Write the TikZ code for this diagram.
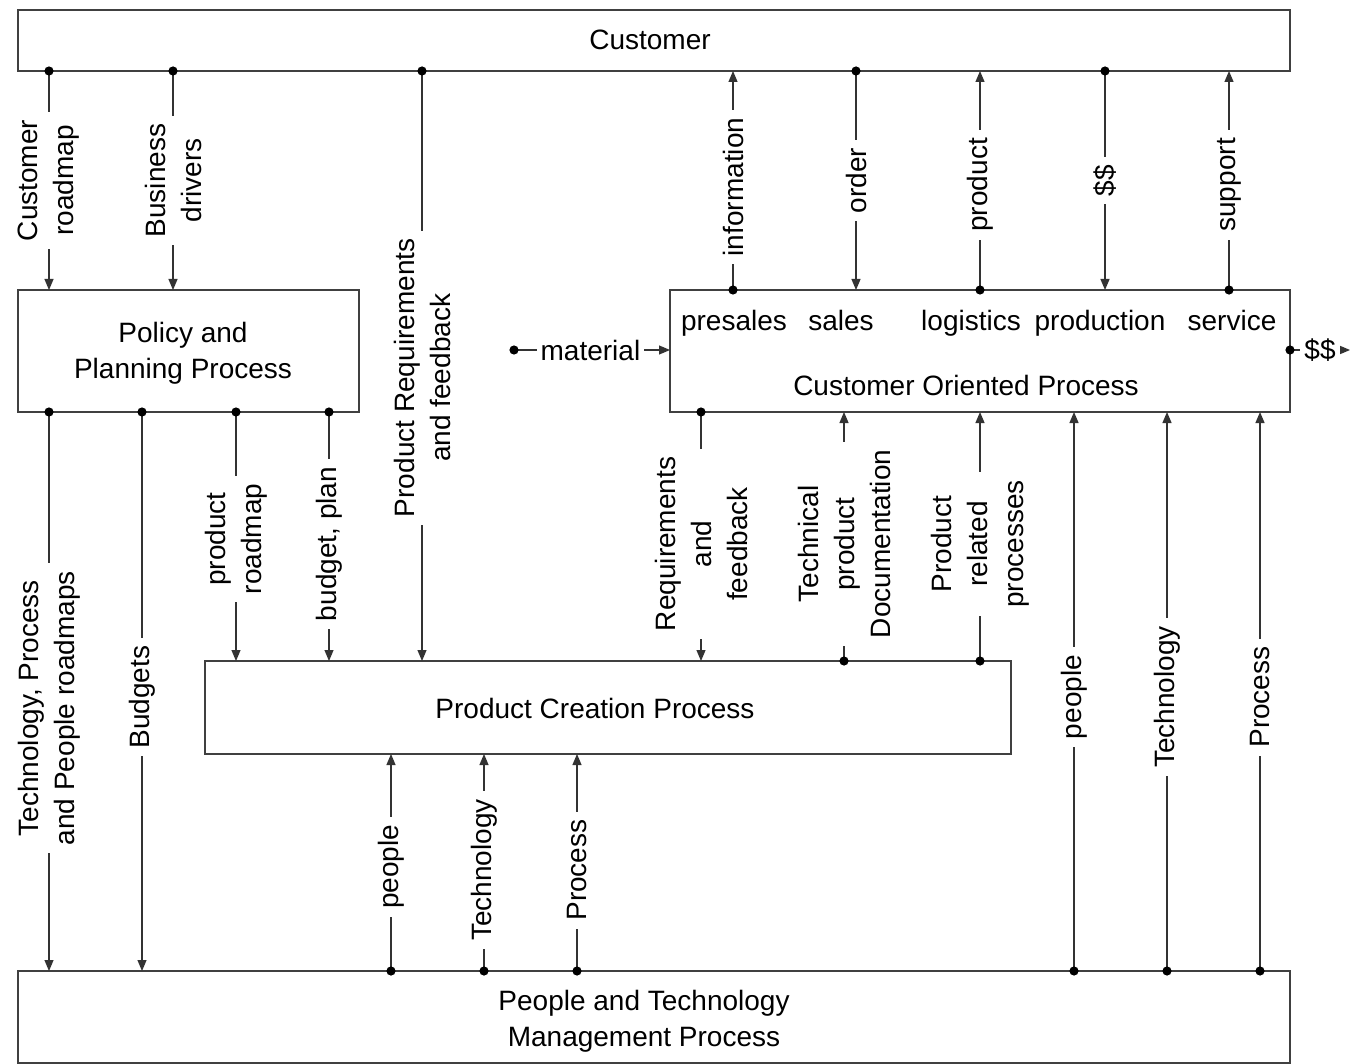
\documentclass[tikz,border=0pt]{standalone}
\usepackage{fontspec}
\setmainfont{Liberation Sans}
\usetikzlibrary{arrows.meta}
\begin{document}
\begin{tikzpicture}[x=0.5pt,y=-0.5pt,
  every node/.style={font=\fontsize{14}{18}\selectfont},
  box/.style={draw=black!75, line width=0.6pt, inner sep=0pt},
  txt/.style={inner sep=0pt, align=center},
  conn/.style={draw=black!80, line width=0.6pt, -{Triangle[length=5.5pt,width=4.5pt]}},
  lbl/.style={fill=white, rotate=90, align=center, inner xsep=4pt, inner ysep=0pt},
  hlbl/.style={fill=white, inner xsep=2pt, inner ysep=0pt}
]
\useasboundingbox (0,0) rectangle (1350,1064);

% boxes
\node[box, minimum width=636pt, minimum height=30.5pt] (cust) at (654,40.5) {};
\node[txt] (custt) at (650,40) {Customer};
\node[box, minimum width=170.5pt, minimum height=61pt] (pol) at (188.5,351) {};
\node[txt] (polt) at (183,353) {Policy and\\Planning Process};
\node[box, minimum width=310pt, minimum height=61pt] (cop) at (980,351) {};
\node[txt, anchor=base] (presales) at (734,330) {presales};
\node[txt, anchor=base] (sales) at (841,330) {sales};
\node[txt, anchor=base] (logistics) at (971,330) {logistics};
\node[txt, anchor=base] (production) at (1100,330) {production};
\node[txt, anchor=base] (service) at (1232,330) {service};
\node[txt] (copt) at (966,385) {Customer Oriented Process};
\node[box, minimum width=403pt, minimum height=46.5pt] (pcp) at (608,707.5) {};
\node[txt] (pcpt) at (595,708) {Product Creation Process};
\node[box, minimum width=636pt, minimum height=46pt] (ptm) at (654,1017) {};
\node[txt] (ptmt) at (644,1021) {People and Technology\\Management Process};

% connection points
\coordinate (a1) at (49,71);   \coordinate (b1) at (49,290);
\coordinate (a2) at (173,71);  \coordinate (b2) at (173,290);
\coordinate (a3) at (422,71);  \coordinate (b3) at (422,661);
\coordinate (a4) at (733,290); \coordinate (b4) at (733,71);
\coordinate (a5) at (856,71);  \coordinate (b5) at (856,290);
\coordinate (a6) at (980,290); \coordinate (b6) at (980,71);
\coordinate (a7) at (1105,71); \coordinate (b7) at (1105,290);
\coordinate (a8) at (1229,290);\coordinate (b8) at (1229,71);
\coordinate (a9) at (49,412);  \coordinate (b9) at (49,971);
\coordinate (a10) at (142,412);\coordinate (b10) at (142,971);
\coordinate (a11) at (236,412);\coordinate (b11) at (236,661);
\coordinate (a12) at (329,412);\coordinate (b12) at (329,661);
\coordinate (a13) at (701,412);\coordinate (b13) at (701,661);
\coordinate (a14) at (844,661);\coordinate (b14) at (844,412);
\coordinate (a15) at (980,661);\coordinate (b15) at (980,412);
\coordinate (a16) at (1074,971);\coordinate (b16) at (1074,412);
\coordinate (a17) at (1167,971);\coordinate (b17) at (1167,412);
\coordinate (a18) at (1260,971);\coordinate (b18) at (1260,412);
\coordinate (a19) at (391,971);\coordinate (b19) at (391,754);
\coordinate (a20) at (484,971);\coordinate (b20) at (484,754);
\coordinate (a21) at (577,971);\coordinate (b21) at (577,754);
\coordinate (a22) at (514,350);\coordinate (b22) at (670,350);
\coordinate (a23) at (1290,350);\coordinate (b23) at (1350,350);

% connectors
\draw[conn] (a1) -- node[lbl, pos=0.5] (l1) {Customer\\roadmap} (b1);
\draw[conn] (a2) -- node[lbl, pos=0.5] (l2) {Business\\drivers} (b2);
\draw[conn] (a3) -- node[lbl, pos=0.52] (l3) {Product Requirements\\and feedback} (b3);
\draw[conn] (a4) -- node[lbl, pos=0.47] (l4) {information} (b4);
\draw[conn] (a5) -- node[lbl, pos=0.5] (l5) {order} (b5);
\draw[conn] (a6) -- node[lbl, pos=0.48] (l6) {product} (b6);
\draw[conn] (a7) -- node[lbl, pos=0.5] (l7) {\$\$} (b7);
\draw[conn] (a8) -- node[lbl, pos=0.48] (l8) {support} (b8);
\draw[conn] (a9) -- node[lbl, pos=0.53] (l9) {Technology, Process\\and People roadmaps} (b9);
\draw[conn] (a10) -- node[lbl, pos=0.51] (l10) {Budgets} (b10);
\draw[conn] (a11) -- node[lbl, pos=0.51] (l11) {product\\roadmap} (b11);
\draw[conn] (a12) -- node[lbl, pos=0.53] (l12) {budget, plan} (b12);
\draw[conn] (a13) -- node[lbl, pos=0.53] (l13) {Requirements\\and\\feedback} (b13);
\draw[conn] (a14) -- node[lbl, pos=0.47] (l14) {Technical\\product\\Documentation} (b14);
\draw[conn] (a15) -- node[lbl, pos=0.47] (l15) {Product\\related\\processes} (b15);
\draw[conn] (a16) -- node[lbl, pos=0.49] (l16) {people} (b16);
\draw[conn] (a17) -- node[lbl, pos=0.49] (l17) {Technology} (b17);
\draw[conn] (a18) -- node[lbl, pos=0.49] (l18) {Process} (b18);
\draw[conn] (a19) -- node[lbl, pos=0.48] (l19) {people} (b19);
\draw[conn] (a20) -- node[lbl, pos=0.465] (l20) {Technology} (b20);
\draw[conn] (a21) -- node[lbl, pos=0.465] (l21) {Process} (b21);
\draw[conn] (a22) -- node[hlbl, pos=0.49] (l22) {material} (b22);
\draw[conn] (a23) -- node[hlbl, pos=0.5] (l23) {\$\$} (b23);

% dots at start points
\foreach \p in {a1,a2,a3,a4,a5,a6,a7,a8,a9,a10,a11,a12,a13,a14,a15,a16,a17,a18,a19,a20,a21,a22,a23}
  \fill (\p) circle[radius=2.3pt];
\end{tikzpicture}
\end{document}
